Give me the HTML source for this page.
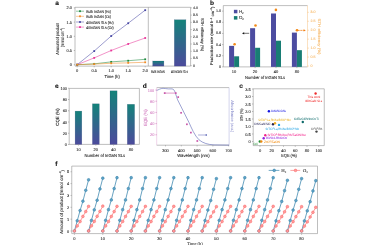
<!DOCTYPE html>
<html><head><meta charset="utf-8"><style>
html,body{margin:0;padding:0;background:#fff;width:380px;height:245px;overflow:hidden;}
svg{display:block;text-rendering:geometricPrecision;font-family:"Liberation Sans", sans-serif;filter:blur(0.35px);}
</style></head><body>
<svg width="380" height="245" viewBox="0 0 380 245"><defs>
<linearGradient id="g1" x1="0" y1="0" x2="0" y2="1"><stop offset="0" stop-color="#14837a"/><stop offset="1" stop-color="#4c4a9c"/></linearGradient>
</defs>
<text x="57.2" y="3.0" font-size="6.6" text-anchor="middle" fill="#111" stroke="#111" stroke-width="0.1" font-weight="bold" font-family='"Liberation Sans", sans-serif' dominant-baseline="central">a</text>
<line x1="75" y1="7.3" x2="190.6" y2="7.3" stroke="#888888" stroke-width="0.55"/>
<line x1="75" y1="66.1" x2="190.6" y2="66.1" stroke="#888888" stroke-width="0.55"/>
<line x1="75" y1="7.3" x2="75" y2="66.1" stroke="#888888" stroke-width="0.55"/>
<line x1="148.3" y1="7.3" x2="148.3" y2="66.1" stroke="#888888" stroke-width="0.55"/>
<line x1="190.6" y1="7.3" x2="190.6" y2="66.1" stroke="#888888" stroke-width="0.55"/>
<line x1="73.8" y1="64.7" x2="75" y2="64.7" stroke="#888888" stroke-width="0.55"/>
<text x="72.0" y="64.7" font-size="4.0" text-anchor="end" fill="#2a2a2a" stroke="#2a2a2a" stroke-width="0.1" font-weight="normal" font-family='"Liberation Sans", sans-serif' dominant-baseline="central">0</text>
<line x1="73.8" y1="50.5" x2="75" y2="50.5" stroke="#888888" stroke-width="0.55"/>
<text x="72.0" y="50.5" font-size="4.0" text-anchor="end" fill="#2a2a2a" stroke="#2a2a2a" stroke-width="0.1" font-weight="normal" font-family='"Liberation Sans", sans-serif' dominant-baseline="central">0.5</text>
<line x1="73.8" y1="36.300000000000004" x2="75" y2="36.300000000000004" stroke="#888888" stroke-width="0.55"/>
<text x="72.0" y="36.300000000000004" font-size="4.0" text-anchor="end" fill="#2a2a2a" stroke="#2a2a2a" stroke-width="0.1" font-weight="normal" font-family='"Liberation Sans", sans-serif' dominant-baseline="central">1.0</text>
<line x1="73.8" y1="22.10000000000001" x2="75" y2="22.10000000000001" stroke="#888888" stroke-width="0.55"/>
<text x="72.0" y="22.10000000000001" font-size="4.0" text-anchor="end" fill="#2a2a2a" stroke="#2a2a2a" stroke-width="0.1" font-weight="normal" font-family='"Liberation Sans", sans-serif' dominant-baseline="central">1.5</text>
<line x1="73.8" y1="7.900000000000006" x2="75" y2="7.900000000000006" stroke="#888888" stroke-width="0.55"/>
<text x="72.0" y="7.900000000000006" font-size="4.0" text-anchor="end" fill="#2a2a2a" stroke="#2a2a2a" stroke-width="0.1" font-weight="normal" font-family='"Liberation Sans", sans-serif' dominant-baseline="central">2.0</text>
<line x1="77.2" y1="66.1" x2="77.2" y2="67.3" stroke="#888888" stroke-width="0.55"/>
<text x="77.2" y="70.8" font-size="4.0" text-anchor="middle" fill="#2a2a2a" stroke="#2a2a2a" stroke-width="0.1" font-weight="normal" font-family='"Liberation Sans", sans-serif' dominant-baseline="central">0</text>
<line x1="94.2" y1="66.1" x2="94.2" y2="67.3" stroke="#888888" stroke-width="0.55"/>
<text x="94.2" y="70.8" font-size="4.0" text-anchor="middle" fill="#2a2a2a" stroke="#2a2a2a" stroke-width="0.1" font-weight="normal" font-family='"Liberation Sans", sans-serif' dominant-baseline="central">0.5</text>
<line x1="111.2" y1="66.1" x2="111.2" y2="67.3" stroke="#888888" stroke-width="0.55"/>
<text x="111.2" y="70.8" font-size="4.0" text-anchor="middle" fill="#2a2a2a" stroke="#2a2a2a" stroke-width="0.1" font-weight="normal" font-family='"Liberation Sans", sans-serif' dominant-baseline="central">1.0</text>
<line x1="128.2" y1="66.1" x2="128.2" y2="67.3" stroke="#888888" stroke-width="0.55"/>
<text x="128.2" y="70.8" font-size="4.0" text-anchor="middle" fill="#2a2a2a" stroke="#2a2a2a" stroke-width="0.1" font-weight="normal" font-family='"Liberation Sans", sans-serif' dominant-baseline="central">1.5</text>
<line x1="145.2" y1="66.1" x2="145.2" y2="67.3" stroke="#888888" stroke-width="0.55"/>
<text x="145.2" y="70.8" font-size="4.0" text-anchor="middle" fill="#2a2a2a" stroke="#2a2a2a" stroke-width="0.1" font-weight="normal" font-family='"Liberation Sans", sans-serif' dominant-baseline="central">2.0</text>
<text x="112.1" y="76.3" font-size="4.3" text-anchor="middle" fill="#2a2a2a" stroke="#2a2a2a" stroke-width="0.1" font-weight="normal" font-family='"Liberation Sans", sans-serif' dominant-baseline="central" textLength="15.4" lengthAdjust="spacingAndGlyphs">Time (h)</text>
<text x="57.0" y="39" font-size="4.4" text-anchor="middle" fill="#2a2a2a" stroke="#2a2a2a" stroke-width="0.1" font-weight="normal" font-family='"Liberation Sans", sans-serif' dominant-baseline="central" transform="rotate(-90 57.0 39)" textLength="31.4" lengthAdjust="spacingAndGlyphs">Amount of product</text>
<text x="62.4" y="37.5" font-size="4.4" text-anchor="middle" fill="#2a2a2a" stroke="#2a2a2a" stroke-width="0.1" font-weight="normal" font-family='"Liberation Sans", sans-serif' dominant-baseline="central" transform="rotate(-90 62.4 37.5)" textLength="19.7" lengthAdjust="spacingAndGlyphs">(mmol cm<tspan font-size="2.6" dy="-1.1">−2</tspan><tspan dy="1.1">)</tspan></text>
<polyline points="77.20,64.70 94.20,51.07 111.20,36.02 128.20,23.24 145.20,10.17" fill="none" stroke="#4a4aa6" stroke-width="0.55"/>
<rect x="76.3" y="63.800000000000004" width="1.8" height="1.8" fill="#4a4aa6"/>
<rect x="93.3" y="50.168000000000006" width="1.8" height="1.8" fill="#4a4aa6"/>
<rect x="110.3" y="35.11600000000001" width="1.8" height="1.8" fill="#4a4aa6"/>
<rect x="127.29999999999998" y="22.336000000000006" width="1.8" height="1.8" fill="#4a4aa6"/>
<rect x="144.29999999999998" y="9.272000000000004" width="1.8" height="1.8" fill="#4a4aa6"/>
<polyline points="77.20,64.70 94.20,57.88 111.20,50.50 128.20,43.97 145.20,38.00" fill="none" stroke="#e8389a" stroke-width="0.55"/>
<rect x="76.3" y="63.800000000000004" width="1.8" height="1.8" fill="#e8389a"/>
<rect x="93.3" y="56.984" width="1.8" height="1.8" fill="#e8389a"/>
<rect x="110.3" y="49.6" width="1.8" height="1.8" fill="#e8389a"/>
<rect x="127.29999999999998" y="43.068000000000005" width="1.8" height="1.8" fill="#e8389a"/>
<rect x="144.29999999999998" y="37.104000000000006" width="1.8" height="1.8" fill="#e8389a"/>
<polyline points="77.20,64.70 94.20,63.85 111.20,61.86 128.20,60.72 145.20,59.30" fill="none" stroke="#1f8a40" stroke-width="0.55"/>
<rect x="76.3" y="63.800000000000004" width="1.8" height="1.8" fill="#1f8a40"/>
<rect x="93.3" y="62.94800000000001" width="1.8" height="1.8" fill="#1f8a40"/>
<rect x="110.3" y="60.96" width="1.8" height="1.8" fill="#1f8a40"/>
<rect x="127.29999999999998" y="59.824000000000005" width="1.8" height="1.8" fill="#1f8a40"/>
<rect x="144.29999999999998" y="58.404" width="1.8" height="1.8" fill="#1f8a40"/>
<polyline points="77.20,64.70 94.20,64.13 111.20,63.28 128.20,62.85 145.20,62.29" fill="none" stroke="#f08c28" stroke-width="0.55"/>
<rect x="76.3" y="63.800000000000004" width="1.8" height="1.8" fill="#f08c28"/>
<rect x="93.3" y="63.232000000000006" width="1.8" height="1.8" fill="#f08c28"/>
<rect x="110.3" y="62.38" width="1.8" height="1.8" fill="#f08c28"/>
<rect x="127.29999999999998" y="61.95400000000001" width="1.8" height="1.8" fill="#f08c28"/>
<rect x="144.29999999999998" y="61.386" width="1.8" height="1.8" fill="#f08c28"/>
<line x1="76" y1="11.2" x2="84" y2="11.2" stroke="#1f8a40" stroke-width="0.5"/>
<rect x="79.1" y="10.299999999999999" width="1.8" height="1.8" fill="#1f8a40"/>
<text x="86.3" y="11.2" font-size="4.0" text-anchor="start" fill="#2a2a2a" stroke="#2a2a2a" stroke-width="0.1" font-weight="normal" font-family='"Liberation Sans", sans-serif' dominant-baseline="central" textLength="24.7" lengthAdjust="spacingAndGlyphs">Bulk InGaN (H<tspan font-size="2.6" dy="0.7">2</tspan><tspan dy="-0.7">)</tspan></text>
<line x1="76" y1="16.3" x2="84" y2="16.3" stroke="#f08c28" stroke-width="0.5"/>
<rect x="79.1" y="15.4" width="1.8" height="1.8" fill="#f08c28"/>
<text x="86.3" y="16.3" font-size="4.0" text-anchor="start" fill="#2a2a2a" stroke="#2a2a2a" stroke-width="0.1" font-weight="normal" font-family='"Liberation Sans", sans-serif' dominant-baseline="central" textLength="24.7" lengthAdjust="spacingAndGlyphs">Bulk InGaN (O<tspan font-size="2.6" dy="0.7">2</tspan><tspan dy="-0.7">)</tspan></text>
<line x1="76" y1="22.0" x2="84" y2="22.0" stroke="#4a4aa6" stroke-width="0.5"/>
<rect x="79.1" y="21.1" width="1.8" height="1.8" fill="#4a4aa6"/>
<text x="86.3" y="22.0" font-size="4.0" text-anchor="start" fill="#2a2a2a" stroke="#2a2a2a" stroke-width="0.1" font-weight="normal" font-family='"Liberation Sans", sans-serif' dominant-baseline="central" textLength="27.4" lengthAdjust="spacingAndGlyphs">40InGaN SLs (H<tspan font-size="2.6" dy="0.7">2</tspan><tspan dy="-0.7">)</tspan></text>
<line x1="76" y1="27.1" x2="84" y2="27.1" stroke="#e8389a" stroke-width="0.5"/>
<rect x="79.1" y="26.200000000000003" width="1.8" height="1.8" fill="#e8389a"/>
<text x="86.3" y="27.1" font-size="4.0" text-anchor="start" fill="#2a2a2a" stroke="#2a2a2a" stroke-width="0.1" font-weight="normal" font-family='"Liberation Sans", sans-serif' dominant-baseline="central" textLength="27.4" lengthAdjust="spacingAndGlyphs">40InGaN SLs (O<tspan font-size="2.6" dy="0.7">2</tspan><tspan dy="-0.7">)</tspan></text>
<rect x="152.7" y="61" width="11.2" height="5.099999999999994" fill="url(#g1)" stroke="#20306a" stroke-opacity="0.35" stroke-width="0.45"/>
<rect x="174.3" y="19.75" width="11.6" height="46.349999999999994" fill="url(#g1)" stroke="#20306a" stroke-opacity="0.35" stroke-width="0.45"/>
<text x="157.9" y="71.0" font-size="4.0" text-anchor="middle" fill="#2a2a2a" stroke="#2a2a2a" stroke-width="0.1" font-weight="normal" font-family='"Liberation Sans", sans-serif' dominant-baseline="central" textLength="13.7" lengthAdjust="spacingAndGlyphs">Bulk InGaN</text>
<text x="179.4" y="71.0" font-size="4.0" text-anchor="middle" fill="#2a2a2a" stroke="#2a2a2a" stroke-width="0.1" font-weight="normal" font-family='"Liberation Sans", sans-serif' dominant-baseline="central" textLength="16.8" lengthAdjust="spacingAndGlyphs">40InGaN SLs</text>
<line x1="190.6" y1="65.7" x2="191.8" y2="65.7" stroke="#888888" stroke-width="0.55"/>
<text x="193" y="65.7" font-size="3.6" text-anchor="start" fill="#2a2a2a" stroke="#2a2a2a" stroke-width="0.1" font-weight="normal" font-family='"Liberation Sans", sans-serif' dominant-baseline="central">0</text>
<line x1="190.6" y1="58.475" x2="191.8" y2="58.475" stroke="#888888" stroke-width="0.55"/>
<text x="193" y="58.475" font-size="3.6" text-anchor="start" fill="#2a2a2a" stroke="#2a2a2a" stroke-width="0.1" font-weight="normal" font-family='"Liberation Sans", sans-serif' dominant-baseline="central">0.5</text>
<line x1="190.6" y1="51.25" x2="191.8" y2="51.25" stroke="#888888" stroke-width="0.55"/>
<text x="193" y="51.25" font-size="3.6" text-anchor="start" fill="#2a2a2a" stroke="#2a2a2a" stroke-width="0.1" font-weight="normal" font-family='"Liberation Sans", sans-serif' dominant-baseline="central">1.0</text>
<line x1="190.6" y1="44.025000000000006" x2="191.8" y2="44.025000000000006" stroke="#888888" stroke-width="0.55"/>
<text x="193" y="44.025000000000006" font-size="3.6" text-anchor="start" fill="#2a2a2a" stroke="#2a2a2a" stroke-width="0.1" font-weight="normal" font-family='"Liberation Sans", sans-serif' dominant-baseline="central">1.5</text>
<line x1="190.6" y1="36.800000000000004" x2="191.8" y2="36.800000000000004" stroke="#888888" stroke-width="0.55"/>
<text x="193" y="36.800000000000004" font-size="3.6" text-anchor="start" fill="#2a2a2a" stroke="#2a2a2a" stroke-width="0.1" font-weight="normal" font-family='"Liberation Sans", sans-serif' dominant-baseline="central">2.0</text>
<line x1="190.6" y1="29.575000000000003" x2="191.8" y2="29.575000000000003" stroke="#888888" stroke-width="0.55"/>
<text x="193" y="29.575000000000003" font-size="3.6" text-anchor="start" fill="#2a2a2a" stroke="#2a2a2a" stroke-width="0.1" font-weight="normal" font-family='"Liberation Sans", sans-serif' dominant-baseline="central">2.5</text>
<line x1="190.6" y1="22.35000000000001" x2="191.8" y2="22.35000000000001" stroke="#888888" stroke-width="0.55"/>
<text x="193" y="22.35000000000001" font-size="3.6" text-anchor="start" fill="#2a2a2a" stroke="#2a2a2a" stroke-width="0.1" font-weight="normal" font-family='"Liberation Sans", sans-serif' dominant-baseline="central">3.0</text>
<line x1="190.6" y1="15.125000000000007" x2="191.8" y2="15.125000000000007" stroke="#888888" stroke-width="0.55"/>
<text x="193" y="15.125000000000007" font-size="3.6" text-anchor="start" fill="#2a2a2a" stroke="#2a2a2a" stroke-width="0.1" font-weight="normal" font-family='"Liberation Sans", sans-serif' dominant-baseline="central">3.5</text>
<line x1="190.6" y1="7.900000000000006" x2="191.8" y2="7.900000000000006" stroke="#888888" stroke-width="0.55"/>
<text x="193" y="7.900000000000006" font-size="3.6" text-anchor="start" fill="#2a2a2a" stroke="#2a2a2a" stroke-width="0.1" font-weight="normal" font-family='"Liberation Sans", sans-serif' dominant-baseline="central">4.0</text>
<text x="202.6" y="34.6" font-size="4.0" text-anchor="middle" fill="#2a2a2a" stroke="#2a2a2a" stroke-width="0.1" font-weight="normal" font-family='"Liberation Sans", sans-serif' dominant-baseline="central" transform="rotate(90 202.6 34.6)" textLength="33" lengthAdjust="spacingAndGlyphs">STH efficiency (%)</text>
<text x="212.0" y="3.0" font-size="6.6" text-anchor="middle" fill="#111" stroke="#111" stroke-width="0.1" font-weight="bold" font-family='"Liberation Sans", sans-serif' dominant-baseline="central">b</text>
<line x1="223.3" y1="5.6" x2="307.5" y2="5.6" stroke="#888888" stroke-width="0.55"/>
<line x1="223.3" y1="66.9" x2="307.5" y2="66.9" stroke="#888888" stroke-width="0.55"/>
<line x1="223.3" y1="5.6" x2="223.3" y2="66.9" stroke="#888888" stroke-width="0.55"/>
<line x1="307.5" y1="5.6" x2="307.5" y2="66.9" stroke="#f7c890" stroke-width="0.55"/>
<line x1="222.10000000000002" y1="66.9" x2="223.3" y2="66.9" stroke="#888888" stroke-width="0.55"/>
<text x="221.10000000000002" y="66.9" font-size="3.7" text-anchor="end" fill="#2a2a2a" stroke="#2a2a2a" stroke-width="0.1" font-weight="normal" font-family='"Liberation Sans", sans-serif' dominant-baseline="central">0</text>
<line x1="222.10000000000002" y1="55.75000000000001" x2="223.3" y2="55.75000000000001" stroke="#888888" stroke-width="0.55"/>
<text x="221.10000000000002" y="55.75000000000001" font-size="3.7" text-anchor="end" fill="#2a2a2a" stroke="#2a2a2a" stroke-width="0.1" font-weight="normal" font-family='"Liberation Sans", sans-serif' dominant-baseline="central">0.2</text>
<line x1="222.10000000000002" y1="44.60000000000001" x2="223.3" y2="44.60000000000001" stroke="#888888" stroke-width="0.55"/>
<text x="221.10000000000002" y="44.60000000000001" font-size="3.7" text-anchor="end" fill="#2a2a2a" stroke="#2a2a2a" stroke-width="0.1" font-weight="normal" font-family='"Liberation Sans", sans-serif' dominant-baseline="central">0.4</text>
<line x1="222.10000000000002" y1="33.45" x2="223.3" y2="33.45" stroke="#888888" stroke-width="0.55"/>
<text x="221.10000000000002" y="33.45" font-size="3.7" text-anchor="end" fill="#2a2a2a" stroke="#2a2a2a" stroke-width="0.1" font-weight="normal" font-family='"Liberation Sans", sans-serif' dominant-baseline="central">0.6</text>
<line x1="222.10000000000002" y1="22.300000000000004" x2="223.3" y2="22.300000000000004" stroke="#888888" stroke-width="0.55"/>
<text x="221.10000000000002" y="22.300000000000004" font-size="3.7" text-anchor="end" fill="#2a2a2a" stroke="#2a2a2a" stroke-width="0.1" font-weight="normal" font-family='"Liberation Sans", sans-serif' dominant-baseline="central">0.8</text>
<line x1="222.10000000000002" y1="11.150000000000006" x2="223.3" y2="11.150000000000006" stroke="#888888" stroke-width="0.55"/>
<text x="221.10000000000002" y="11.150000000000006" font-size="3.7" text-anchor="end" fill="#2a2a2a" stroke="#2a2a2a" stroke-width="0.1" font-weight="normal" font-family='"Liberation Sans", sans-serif' dominant-baseline="central">1.0</text>
<rect x="229.1" y="45.882250000000006" width="5" height="21.01775" fill="#4c4ca0"/>
<rect x="234.1" y="56.307500000000005" width="5" height="10.592500000000001" fill="#187d74"/>
<line x1="234.1" y1="66.9" x2="234.1" y2="68.10000000000001" stroke="#888888" stroke-width="0.55"/>
<text x="234.1" y="71.5" font-size="4.0" text-anchor="middle" fill="#2a2a2a" stroke="#2a2a2a" stroke-width="0.1" font-weight="normal" font-family='"Liberation Sans", sans-serif' dominant-baseline="central">10</text>
<rect x="250.1" y="28.209500000000006" width="5" height="38.6905" fill="#4c4ca0"/>
<rect x="255.1" y="47.777750000000005" width="5" height="19.12225" fill="#187d74"/>
<line x1="255.1" y1="66.9" x2="255.1" y2="68.10000000000001" stroke="#888888" stroke-width="0.55"/>
<text x="255.1" y="71.5" font-size="4.0" text-anchor="middle" fill="#2a2a2a" stroke="#2a2a2a" stroke-width="0.1" font-weight="normal" font-family='"Liberation Sans", sans-serif' dominant-baseline="central">20</text>
<rect x="271.0" y="13.49150000000001" width="5" height="53.4085" fill="#4c4ca0"/>
<rect x="276.0" y="40.697500000000005" width="5" height="26.2025" fill="#187d74"/>
<line x1="276.0" y1="66.9" x2="276.0" y2="68.10000000000001" stroke="#888888" stroke-width="0.55"/>
<text x="276.0" y="71.5" font-size="4.0" text-anchor="middle" fill="#2a2a2a" stroke="#2a2a2a" stroke-width="0.1" font-weight="normal" font-family='"Liberation Sans", sans-serif' dominant-baseline="central">40</text>
<rect x="291.9" y="32.61375" width="5" height="34.28625" fill="#4c4ca0"/>
<rect x="296.9" y="50.17500000000001" width="5" height="16.724999999999994" fill="#187d74"/>
<line x1="296.9" y1="66.9" x2="296.9" y2="68.10000000000001" stroke="#888888" stroke-width="0.55"/>
<text x="296.9" y="71.5" font-size="4.0" text-anchor="middle" fill="#2a2a2a" stroke="#2a2a2a" stroke-width="0.1" font-weight="normal" font-family='"Liberation Sans", sans-serif' dominant-baseline="central">80</text>
<line x1="307.5" y1="66.0" x2="308.7" y2="66.0" stroke="#f6b868" stroke-width="0.55"/>
<text x="310.4" y="66.0" font-size="3.6" text-anchor="start" fill="#f6b868" stroke="#f6b868" stroke-width="0.1" font-weight="normal" font-family='"Liberation Sans", sans-serif' dominant-baseline="central">0</text>
<line x1="307.5" y1="57.05" x2="308.7" y2="57.05" stroke="#f6b868" stroke-width="0.55"/>
<text x="310.4" y="57.05" font-size="3.6" text-anchor="start" fill="#f6b868" stroke="#f6b868" stroke-width="0.1" font-weight="normal" font-family='"Liberation Sans", sans-serif' dominant-baseline="central">0.5</text>
<line x1="307.5" y1="48.1" x2="308.7" y2="48.1" stroke="#f6b868" stroke-width="0.55"/>
<text x="310.4" y="48.1" font-size="3.6" text-anchor="start" fill="#f6b868" stroke="#f6b868" stroke-width="0.1" font-weight="normal" font-family='"Liberation Sans", sans-serif' dominant-baseline="central">1.0</text>
<line x1="307.5" y1="39.150000000000006" x2="308.7" y2="39.150000000000006" stroke="#f6b868" stroke-width="0.55"/>
<text x="310.4" y="39.150000000000006" font-size="3.6" text-anchor="start" fill="#f6b868" stroke="#f6b868" stroke-width="0.1" font-weight="normal" font-family='"Liberation Sans", sans-serif' dominant-baseline="central">1.5</text>
<line x1="307.5" y1="30.200000000000003" x2="308.7" y2="30.200000000000003" stroke="#f6b868" stroke-width="0.55"/>
<text x="310.4" y="30.200000000000003" font-size="3.6" text-anchor="start" fill="#f6b868" stroke="#f6b868" stroke-width="0.1" font-weight="normal" font-family='"Liberation Sans", sans-serif' dominant-baseline="central">2.0</text>
<line x1="307.5" y1="21.25" x2="308.7" y2="21.25" stroke="#f6b868" stroke-width="0.55"/>
<text x="310.4" y="21.25" font-size="3.6" text-anchor="start" fill="#f6b868" stroke="#f6b868" stroke-width="0.1" font-weight="normal" font-family='"Liberation Sans", sans-serif' dominant-baseline="central">2.5</text>
<line x1="307.5" y1="12.300000000000004" x2="308.7" y2="12.300000000000004" stroke="#f6b868" stroke-width="0.55"/>
<text x="310.4" y="12.300000000000004" font-size="3.6" text-anchor="start" fill="#f6b868" stroke="#f6b868" stroke-width="0.1" font-weight="normal" font-family='"Liberation Sans", sans-serif' dominant-baseline="central">3.0</text>
<circle cx="234.6" cy="44.3" r="1.3" fill="#f38a18" stroke="none" stroke-width="0"/>
<circle cx="255.5" cy="25.5" r="1.3" fill="#f38a18" stroke="none" stroke-width="0"/>
<circle cx="275.9" cy="9.9" r="1.3" fill="#f38a18" stroke="none" stroke-width="0"/>
<circle cx="297" cy="30.3" r="1.3" fill="#f38a18" stroke="none" stroke-width="0"/>
<line x1="297.5" y1="30.4" x2="304.8" y2="30.4" stroke="#f38018" stroke-width="0.75" stroke-dasharray="2.2,0.6"/>
<path d="M305.8,30.4 L303.6,29.3 L303.6,31.5 Z" fill="#f38018"/>
<line x1="243.5" y1="33.3" x2="249.2" y2="33.3" stroke="#111" stroke-width="0.6"/>
<path d="M242,33.3 L244.2,32.2 L244.2,34.4 Z" fill="#111"/>
<rect x="233.9" y="9.8" width="3.5" height="3.5" fill="#4c4ca0"/>
<rect x="233.9" y="16.1" width="3.5" height="3.5" fill="#187d74"/>
<text x="238.9" y="11.4" font-size="4.4" text-anchor="start" fill="#2a2a2a" stroke="#2a2a2a" stroke-width="0.1" font-weight="normal" font-family='"Liberation Sans", sans-serif' dominant-baseline="central">H<tspan font-size="2.8" dy="1.1">2</tspan><tspan dy="-1.1"></tspan></text>
<text x="238.9" y="17.7" font-size="4.4" text-anchor="start" fill="#2a2a2a" stroke="#2a2a2a" stroke-width="0.1" font-weight="normal" font-family='"Liberation Sans", sans-serif' dominant-baseline="central">O<tspan font-size="2.8" dy="1.1">2</tspan><tspan dy="-1.1"></tspan></text>
<text x="265.1" y="77.0" font-size="4.4" text-anchor="middle" fill="#2a2a2a" stroke="#2a2a2a" stroke-width="0.1" font-weight="normal" font-family='"Liberation Sans", sans-serif' dominant-baseline="central" textLength="40" lengthAdjust="spacingAndGlyphs">Number of InGaN SLs</text>
<text x="211.7" y="35.8" font-size="4.0" text-anchor="middle" fill="#2a2a2a" stroke="#2a2a2a" stroke-width="0.1" font-weight="normal" font-family='"Liberation Sans", sans-serif' dominant-baseline="central" transform="rotate(-90 211.7 35.8)" textLength="58.6" lengthAdjust="spacingAndGlyphs">Production rate (mmol h<tspan font-size="2.6" dy="-1.1">−1</tspan><tspan dy="1.1"> cm<tspan font-size="2.6" dy="-1.1">−2</tspan><tspan dy="1.1">)</tspan></tspan></text>
<text x="319.2" y="36.5" font-size="3.8" text-anchor="middle" fill="#f6b868" stroke="#f6b868" stroke-width="0.1" font-weight="normal" font-family='"Liberation Sans", sans-serif' dominant-baseline="central" transform="rotate(90 319.2 36.5)" textLength="36" lengthAdjust="spacingAndGlyphs">STH efficiency (%)</text>
<text x="56.9" y="86" font-size="6.6" text-anchor="middle" fill="#111" stroke="#111" stroke-width="0.1" font-weight="bold" font-family='"Liberation Sans", sans-serif' dominant-baseline="central">e</text>
<line x1="69.2" y1="88.4" x2="139.4" y2="88.4" stroke="#888888" stroke-width="0.55"/>
<line x1="69.2" y1="144.4" x2="139.4" y2="144.4" stroke="#888888" stroke-width="0.55"/>
<line x1="69.2" y1="88.4" x2="69.2" y2="144.4" stroke="#888888" stroke-width="0.55"/>
<line x1="139.4" y1="88.4" x2="139.4" y2="144.4" stroke="#888888" stroke-width="0.55"/>
<line x1="68.0" y1="144.5" x2="69.2" y2="144.5" stroke="#888888" stroke-width="0.55"/>
<text x="67.0" y="144.5" font-size="3.9" text-anchor="end" fill="#2a2a2a" stroke="#2a2a2a" stroke-width="0.1" font-weight="normal" font-family='"Liberation Sans", sans-serif' dominant-baseline="central">0</text>
<line x1="68.0" y1="133.25" x2="69.2" y2="133.25" stroke="#888888" stroke-width="0.55"/>
<text x="67.0" y="133.25" font-size="3.9" text-anchor="end" fill="#2a2a2a" stroke="#2a2a2a" stroke-width="0.1" font-weight="normal" font-family='"Liberation Sans", sans-serif' dominant-baseline="central">20</text>
<line x1="68.0" y1="122.0" x2="69.2" y2="122.0" stroke="#888888" stroke-width="0.55"/>
<text x="67.0" y="122.0" font-size="3.9" text-anchor="end" fill="#2a2a2a" stroke="#2a2a2a" stroke-width="0.1" font-weight="normal" font-family='"Liberation Sans", sans-serif' dominant-baseline="central">40</text>
<line x1="68.0" y1="110.75" x2="69.2" y2="110.75" stroke="#888888" stroke-width="0.55"/>
<text x="67.0" y="110.75" font-size="3.9" text-anchor="end" fill="#2a2a2a" stroke="#2a2a2a" stroke-width="0.1" font-weight="normal" font-family='"Liberation Sans", sans-serif' dominant-baseline="central">60</text>
<line x1="68.0" y1="99.5" x2="69.2" y2="99.5" stroke="#888888" stroke-width="0.55"/>
<text x="67.0" y="99.5" font-size="3.9" text-anchor="end" fill="#2a2a2a" stroke="#2a2a2a" stroke-width="0.1" font-weight="normal" font-family='"Liberation Sans", sans-serif' dominant-baseline="central">80</text>
<line x1="68.0" y1="88.25" x2="69.2" y2="88.25" stroke="#888888" stroke-width="0.55"/>
<text x="67.0" y="88.25" font-size="3.9" text-anchor="end" fill="#2a2a2a" stroke="#2a2a2a" stroke-width="0.1" font-weight="normal" font-family='"Liberation Sans", sans-serif' dominant-baseline="central">100</text>
<rect x="75.1" y="111.1" width="6.700000000000003" height="33.30000000000001" fill="url(#g1)" stroke="#20306a" stroke-opacity="0.35" stroke-width="0.45"/>
<line x1="78.44999999999999" y1="144.4" x2="78.44999999999999" y2="145.6" stroke="#888888" stroke-width="0.55"/>
<text x="78.44999999999999" y="149.2" font-size="4.0" text-anchor="middle" fill="#2a2a2a" stroke="#2a2a2a" stroke-width="0.1" font-weight="normal" font-family='"Liberation Sans", sans-serif' dominant-baseline="central">10</text>
<rect x="92.4" y="103.8" width="6.8999999999999915" height="40.60000000000001" fill="url(#g1)" stroke="#20306a" stroke-opacity="0.35" stroke-width="0.45"/>
<line x1="95.85" y1="144.4" x2="95.85" y2="145.6" stroke="#888888" stroke-width="0.55"/>
<text x="95.85" y="149.2" font-size="4.0" text-anchor="middle" fill="#2a2a2a" stroke="#2a2a2a" stroke-width="0.1" font-weight="normal" font-family='"Liberation Sans", sans-serif' dominant-baseline="central">20</text>
<rect x="110.0" y="90.8" width="7.099999999999994" height="53.60000000000001" fill="url(#g1)" stroke="#20306a" stroke-opacity="0.35" stroke-width="0.45"/>
<line x1="113.55" y1="144.4" x2="113.55" y2="145.6" stroke="#888888" stroke-width="0.55"/>
<text x="113.55" y="149.2" font-size="4.0" text-anchor="middle" fill="#2a2a2a" stroke="#2a2a2a" stroke-width="0.1" font-weight="normal" font-family='"Liberation Sans", sans-serif' dominant-baseline="central">40</text>
<rect x="127.3" y="104.3" width="7.299999999999997" height="40.10000000000001" fill="url(#g1)" stroke="#20306a" stroke-opacity="0.35" stroke-width="0.45"/>
<line x1="130.95" y1="144.4" x2="130.95" y2="145.6" stroke="#888888" stroke-width="0.55"/>
<text x="130.95" y="149.2" font-size="4.0" text-anchor="middle" fill="#2a2a2a" stroke="#2a2a2a" stroke-width="0.1" font-weight="normal" font-family='"Liberation Sans", sans-serif' dominant-baseline="central">80</text>
<text x="104.85" y="155.0" font-size="4.4" text-anchor="middle" fill="#2a2a2a" stroke="#2a2a2a" stroke-width="0.1" font-weight="normal" font-family='"Liberation Sans", sans-serif' dominant-baseline="central" textLength="40.5" lengthAdjust="spacingAndGlyphs">Number of InGaN SLs</text>
<text x="57.6" y="117" font-size="4.5" text-anchor="middle" fill="#2a2a2a" stroke="#2a2a2a" stroke-width="0.1" font-weight="normal" font-family='"Liberation Sans", sans-serif' dominant-baseline="central" transform="rotate(-90 57.6 117)" textLength="17.5" lengthAdjust="spacingAndGlyphs">CQE (%)</text>
<text x="144.8" y="86" font-size="6.6" text-anchor="middle" fill="#111" stroke="#111" stroke-width="0.1" font-weight="bold" font-family='"Liberation Sans", sans-serif' dominant-baseline="central">d</text>
<line x1="156.7" y1="87.6" x2="229.1" y2="87.6" stroke="#888888" stroke-width="0.55"/>
<line x1="156.7" y1="145.2" x2="229.1" y2="145.2" stroke="#888888" stroke-width="0.55"/>
<line x1="156.7" y1="87.6" x2="156.7" y2="145.2" stroke="#e4b0d8" stroke-width="0.55"/>
<line x1="229.1" y1="87.6" x2="229.1" y2="145.2" stroke="#b0b4e0" stroke-width="0.55"/>
<line x1="155.5" y1="134.8" x2="156.7" y2="134.8" stroke="#c855a8" stroke-width="0.55"/>
<text x="154.29999999999998" y="134.8" font-size="3.9" text-anchor="end" fill="#d27ec0" stroke="#d27ec0" stroke-width="0.08" font-weight="normal" font-family='"Liberation Sans", sans-serif' dominant-baseline="central">20</text>
<line x1="155.5" y1="123.6" x2="156.7" y2="123.6" stroke="#c855a8" stroke-width="0.55"/>
<text x="154.29999999999998" y="123.6" font-size="3.9" text-anchor="end" fill="#d27ec0" stroke="#d27ec0" stroke-width="0.08" font-weight="normal" font-family='"Liberation Sans", sans-serif' dominant-baseline="central">40</text>
<line x1="155.5" y1="112.4" x2="156.7" y2="112.4" stroke="#c855a8" stroke-width="0.55"/>
<text x="154.29999999999998" y="112.4" font-size="3.9" text-anchor="end" fill="#d27ec0" stroke="#d27ec0" stroke-width="0.08" font-weight="normal" font-family='"Liberation Sans", sans-serif' dominant-baseline="central">60</text>
<line x1="155.5" y1="101.19999999999999" x2="156.7" y2="101.19999999999999" stroke="#c855a8" stroke-width="0.55"/>
<text x="154.29999999999998" y="101.19999999999999" font-size="3.9" text-anchor="end" fill="#d27ec0" stroke="#d27ec0" stroke-width="0.08" font-weight="normal" font-family='"Liberation Sans", sans-serif' dominant-baseline="central">80</text>
<line x1="155.5" y1="90.0" x2="156.7" y2="90.0" stroke="#c855a8" stroke-width="0.55"/>
<text x="154.29999999999998" y="90.0" font-size="3.9" text-anchor="end" fill="#d27ec0" stroke="#d27ec0" stroke-width="0.08" font-weight="normal" font-family='"Liberation Sans", sans-serif' dominant-baseline="central">100</text>
<line x1="165.5" y1="145.2" x2="165.5" y2="146.39999999999998" stroke="#888888" stroke-width="0.55"/>
<text x="165.5" y="150.1" font-size="4.0" text-anchor="middle" fill="#2a2a2a" stroke="#2a2a2a" stroke-width="0.1" font-weight="normal" font-family='"Liberation Sans", sans-serif' dominant-baseline="central">300</text>
<line x1="181.3" y1="145.2" x2="181.3" y2="146.39999999999998" stroke="#888888" stroke-width="0.55"/>
<text x="181.3" y="150.1" font-size="4.0" text-anchor="middle" fill="#2a2a2a" stroke="#2a2a2a" stroke-width="0.1" font-weight="normal" font-family='"Liberation Sans", sans-serif' dominant-baseline="central">400</text>
<line x1="197.1" y1="145.2" x2="197.1" y2="146.39999999999998" stroke="#888888" stroke-width="0.55"/>
<text x="197.1" y="150.1" font-size="4.0" text-anchor="middle" fill="#2a2a2a" stroke="#2a2a2a" stroke-width="0.1" font-weight="normal" font-family='"Liberation Sans", sans-serif' dominant-baseline="central">500</text>
<line x1="212.9" y1="145.2" x2="212.9" y2="146.39999999999998" stroke="#888888" stroke-width="0.55"/>
<text x="212.9" y="150.1" font-size="4.0" text-anchor="middle" fill="#2a2a2a" stroke="#2a2a2a" stroke-width="0.1" font-weight="normal" font-family='"Liberation Sans", sans-serif' dominant-baseline="central">600</text>
<line x1="228.7" y1="145.2" x2="228.7" y2="146.39999999999998" stroke="#888888" stroke-width="0.55"/>
<text x="228.7" y="150.1" font-size="4.0" text-anchor="middle" fill="#2a2a2a" stroke="#2a2a2a" stroke-width="0.1" font-weight="normal" font-family='"Liberation Sans", sans-serif' dominant-baseline="central">700</text>
<text x="193.4" y="155.9" font-size="4.4" text-anchor="middle" fill="#2a2a2a" stroke="#2a2a2a" stroke-width="0.1" font-weight="normal" font-family='"Liberation Sans", sans-serif' dominant-baseline="central" textLength="32.4" lengthAdjust="spacingAndGlyphs">Wavelength (nm)</text>
<text x="145.0" y="117.5" font-size="4.5" text-anchor="middle" fill="#d27ec0" stroke="#d27ec0" stroke-width="0.08" font-weight="normal" font-family='"Liberation Sans", sans-serif' dominant-baseline="central" transform="rotate(-90 145.0 117.5)" textLength="16.5" lengthAdjust="spacingAndGlyphs">EQE (%)</text>
<text x="232.6" y="116.2" font-size="4.0" text-anchor="middle" fill="#8a8ecc" stroke="#8a8ecc" stroke-width="0.04" font-weight="normal" font-family='"Liberation Sans", sans-serif' dominant-baseline="central" transform="rotate(90 232.6 116.2)" textLength="32" lengthAdjust="spacingAndGlyphs">Absorbance (a.u.)</text>
<path d="M156.7,90.4 C158.5,89.9 160.5,88.4 163,88.3 C165,88.3 166.5,88.9 168.5,88.9 L172,88.9 C173.5,89.1 174.3,90 175.2,92.5 C176,95 176.8,97.5 177.6,99.8 L189,122.5 C191.5,128 194.5,135.5 199,139.8 C203,143.2 208,144.6 214,144.9 L229,145.1" fill="none" stroke="#5a64b4" stroke-width="0.6"/>
<line x1="164.7" y1="93.1" x2="175.8" y2="93.1" stroke="#c855a8" stroke-width="0.6"/>
<rect x="163.85" y="92.25" width="1.7" height="1.7" fill="#c855a8"/>
<rect x="174.95000000000002" y="92.25" width="1.7" height="1.7" fill="#c855a8"/>
<rect x="177.35" y="96.25" width="1.7" height="1.7" fill="#c855a8"/>
<rect x="180.25" y="111.95" width="1.7" height="1.7" fill="#c855a8"/>
<rect x="186.05" y="123.45" width="1.7" height="1.7" fill="#c855a8"/>
<rect x="190.05" y="131.75" width="1.7" height="1.7" fill="#c855a8"/>
<rect x="196.45000000000002" y="140.15" width="1.7" height="1.7" fill="#c855a8"/>
<line x1="198.1" y1="135" x2="206.2" y2="135" stroke="#8a8ecc" stroke-width="0.7"/>
<rect x="205.6" y="134.3" width="1.4" height="1.4" fill="#5a64b4"/>
<text x="241.0" y="86.5" font-size="6.6" text-anchor="middle" fill="#111" stroke="#111" stroke-width="0.1" font-weight="bold" font-family='"Liberation Sans", sans-serif' dominant-baseline="central">c</text>
<line x1="253.2" y1="88.8" x2="324.25" y2="88.8" stroke="#888888" stroke-width="0.55"/>
<line x1="253.2" y1="145.6" x2="324.25" y2="145.6" stroke="#888888" stroke-width="0.55"/>
<line x1="253.2" y1="88.8" x2="253.2" y2="145.6" stroke="#888888" stroke-width="0.55"/>
<line x1="324.25" y1="88.8" x2="324.25" y2="145.6" stroke="#888888" stroke-width="0.55"/>
<line x1="252.0" y1="141.5" x2="253.2" y2="141.5" stroke="#888888" stroke-width="0.55"/>
<text x="250.6" y="141.5" font-size="3.9" text-anchor="end" fill="#2a2a2a" stroke="#2a2a2a" stroke-width="0.1" font-weight="normal" font-family='"Liberation Sans", sans-serif' dominant-baseline="central">0</text>
<line x1="252.0" y1="134.0" x2="253.2" y2="134.0" stroke="#888888" stroke-width="0.55"/>
<text x="250.6" y="134.0" font-size="3.9" text-anchor="end" fill="#2a2a2a" stroke="#2a2a2a" stroke-width="0.1" font-weight="normal" font-family='"Liberation Sans", sans-serif' dominant-baseline="central">0.5</text>
<line x1="252.0" y1="126.5" x2="253.2" y2="126.5" stroke="#888888" stroke-width="0.55"/>
<text x="250.6" y="126.5" font-size="3.9" text-anchor="end" fill="#2a2a2a" stroke="#2a2a2a" stroke-width="0.1" font-weight="normal" font-family='"Liberation Sans", sans-serif' dominant-baseline="central">1.0</text>
<line x1="252.0" y1="119.0" x2="253.2" y2="119.0" stroke="#888888" stroke-width="0.55"/>
<text x="250.6" y="119.0" font-size="3.9" text-anchor="end" fill="#2a2a2a" stroke="#2a2a2a" stroke-width="0.1" font-weight="normal" font-family='"Liberation Sans", sans-serif' dominant-baseline="central">1.5</text>
<line x1="252.0" y1="111.5" x2="253.2" y2="111.5" stroke="#888888" stroke-width="0.55"/>
<text x="250.6" y="111.5" font-size="3.9" text-anchor="end" fill="#2a2a2a" stroke="#2a2a2a" stroke-width="0.1" font-weight="normal" font-family='"Liberation Sans", sans-serif' dominant-baseline="central">2.0</text>
<line x1="252.0" y1="104.0" x2="253.2" y2="104.0" stroke="#888888" stroke-width="0.55"/>
<text x="250.6" y="104.0" font-size="3.9" text-anchor="end" fill="#2a2a2a" stroke="#2a2a2a" stroke-width="0.1" font-weight="normal" font-family='"Liberation Sans", sans-serif' dominant-baseline="central">2.5</text>
<line x1="252.0" y1="96.5" x2="253.2" y2="96.5" stroke="#888888" stroke-width="0.55"/>
<text x="250.6" y="96.5" font-size="3.9" text-anchor="end" fill="#2a2a2a" stroke="#2a2a2a" stroke-width="0.1" font-weight="normal" font-family='"Liberation Sans", sans-serif' dominant-baseline="central">3.0</text>
<line x1="252.0" y1="89.0" x2="253.2" y2="89.0" stroke="#888888" stroke-width="0.55"/>
<text x="250.6" y="89.0" font-size="3.9" text-anchor="end" fill="#2a2a2a" stroke="#2a2a2a" stroke-width="0.1" font-weight="normal" font-family='"Liberation Sans", sans-serif' dominant-baseline="central">3.5</text>
<line x1="260.0" y1="145.6" x2="260.0" y2="146.79999999999998" stroke="#888888" stroke-width="0.55"/>
<text x="260.0" y="150.1" font-size="4.0" text-anchor="middle" fill="#2a2a2a" stroke="#2a2a2a" stroke-width="0.1" font-weight="normal" font-family='"Liberation Sans", sans-serif' dominant-baseline="central">0</text>
<line x1="271.75" y1="145.6" x2="271.75" y2="146.79999999999998" stroke="#888888" stroke-width="0.55"/>
<text x="271.75" y="150.1" font-size="4.0" text-anchor="middle" fill="#2a2a2a" stroke="#2a2a2a" stroke-width="0.1" font-weight="normal" font-family='"Liberation Sans", sans-serif' dominant-baseline="central">20</text>
<line x1="283.5" y1="145.6" x2="283.5" y2="146.79999999999998" stroke="#888888" stroke-width="0.55"/>
<text x="283.5" y="150.1" font-size="4.0" text-anchor="middle" fill="#2a2a2a" stroke="#2a2a2a" stroke-width="0.1" font-weight="normal" font-family='"Liberation Sans", sans-serif' dominant-baseline="central">40</text>
<line x1="295.25" y1="145.6" x2="295.25" y2="146.79999999999998" stroke="#888888" stroke-width="0.55"/>
<text x="295.25" y="150.1" font-size="4.0" text-anchor="middle" fill="#2a2a2a" stroke="#2a2a2a" stroke-width="0.1" font-weight="normal" font-family='"Liberation Sans", sans-serif' dominant-baseline="central">60</text>
<line x1="307.0" y1="145.6" x2="307.0" y2="146.79999999999998" stroke="#888888" stroke-width="0.55"/>
<text x="307.0" y="150.1" font-size="4.0" text-anchor="middle" fill="#2a2a2a" stroke="#2a2a2a" stroke-width="0.1" font-weight="normal" font-family='"Liberation Sans", sans-serif' dominant-baseline="central">80</text>
<line x1="318.75" y1="145.6" x2="318.75" y2="146.79999999999998" stroke="#888888" stroke-width="0.55"/>
<text x="318.75" y="150.1" font-size="4.0" text-anchor="middle" fill="#2a2a2a" stroke="#2a2a2a" stroke-width="0.1" font-weight="normal" font-family='"Liberation Sans", sans-serif' dominant-baseline="central">100</text>
<text x="289.0" y="155.6" font-size="4.4" text-anchor="middle" fill="#2a2a2a" stroke="#2a2a2a" stroke-width="0.1" font-weight="normal" font-family='"Liberation Sans", sans-serif' dominant-baseline="central" textLength="15.4" lengthAdjust="spacingAndGlyphs">EQE (%)</text>
<text x="241.5" y="114.8" font-size="4.3" text-anchor="middle" fill="#2a2a2a" stroke="#2a2a2a" stroke-width="0.08" font-weight="normal" font-family='"Liberation Sans", sans-serif' dominant-baseline="central" transform="rotate(-90 241.5 114.8)" textLength="12.5" lengthAdjust="spacingAndGlyphs">STH (%)</text>
<circle cx="315.6" cy="93.5" r="1.2" fill="#ee2a2a" stroke="none" stroke-width="0"/>
<circle cx="268.9" cy="111.3" r="1.2" fill="#1414e0" stroke="none" stroke-width="0"/>
<circle cx="302.8" cy="122.0" r="1.2" fill="#0d6a6a" stroke="none" stroke-width="0"/>
<circle cx="273.0" cy="124.2" r="1.2" fill="#222250" stroke="none" stroke-width="0"/>
<circle cx="275.0" cy="123.2" r="1.2" fill="#f0b020" stroke="none" stroke-width="0"/>
<circle cx="279.0" cy="124.9" r="1.2" fill="#20a8e8" stroke="none" stroke-width="0"/>
<circle cx="265.3" cy="135.2" r="1.2" fill="#f0208a" stroke="none" stroke-width="0"/>
<circle cx="263.7" cy="138.2" r="1.2" fill="#9020e0" stroke="none" stroke-width="0"/>
<circle cx="259.8" cy="141.5" r="1.2" fill="#208a30" stroke="none" stroke-width="0"/>
<circle cx="261.3" cy="141.5" r="1.2" fill="#f08a10" stroke="none" stroke-width="0"/>
<circle cx="316.5" cy="131.6" r="1.2" fill="#444444" stroke="none" stroke-width="0"/>
<text x="313.9" y="97.0" font-size="3.2" text-anchor="middle" fill="#ee3030" stroke="#ee3030" stroke-width="0.03" font-weight="normal" font-family='"Liberation Sans", sans-serif' dominant-baseline="central" textLength="12.6" lengthAdjust="spacingAndGlyphs">This work</text>
<text x="313.5" y="100.9" font-size="3.2" text-anchor="middle" fill="#ee3030" stroke="#ee3030" stroke-width="0.03" font-weight="normal" font-family='"Liberation Sans", sans-serif' dominant-baseline="central" textLength="17.2" lengthAdjust="spacingAndGlyphs">40InGaN SLs</text>
<text x="271.0" y="111.4" font-size="3.2" text-anchor="start" fill="#1414e0" stroke="#1414e0" stroke-width="0.03" font-weight="normal" font-family='"Liberation Sans", sans-serif' dominant-baseline="central" textLength="14.9" lengthAdjust="spacingAndGlyphs">C<tspan font-size="2.2" dy="0.5">3</tspan><tspan dy="-0.5">N</tspan><tspan font-size="2.2" dy="0.5">4</tspan><tspan dy="-0.5">/Ni-C</tspan><tspan font-size="2.2" dy="0.5">3</tspan><tspan dy="-0.5">N</tspan><tspan font-size="2.2" dy="0.5">4</tspan><tspan dy="-0.5"></tspan></text>
<text x="258.2" y="119.8" font-size="3.2" text-anchor="start" fill="#e8b020" stroke="#e8b020" stroke-width="0.03" font-weight="normal" font-family='"Liberation Sans", sans-serif' dominant-baseline="central" textLength="32.5" lengthAdjust="spacingAndGlyphs">SrTiO<tspan font-size="2.2" dy="0.5">3</tspan><tspan dy="-0.5">:La,Rh/Au/BiVO</tspan><tspan font-size="2.2" dy="0.5">4</tspan><tspan dy="-0.5">:Mo</tspan></text>
<text x="294.1" y="119.0" font-size="3.2" text-anchor="start" fill="#0d6a6a" stroke="#0d6a6a" stroke-width="0.03" font-weight="normal" font-family='"Liberation Sans", sans-serif' dominant-baseline="central" textLength="24.5" lengthAdjust="spacingAndGlyphs">CdTe:Cl/Pt/In<tspan font-size="2.2" dy="0.5">2</tspan><tspan dy="-0.5">O</tspan><tspan font-size="2.2" dy="0.5">3</tspan><tspan dy="-0.5">:Ti</tspan></text>
<text x="254.0" y="124.0" font-size="3.2" text-anchor="start" fill="#333360" stroke="#333360" stroke-width="0.03" font-weight="normal" font-family='"Liberation Sans", sans-serif' dominant-baseline="central" textLength="16.4" lengthAdjust="spacingAndGlyphs">CrN/GaN/SiO</text>
<text x="265.5" y="128.6" font-size="3.2" text-anchor="start" fill="#20a0e0" stroke="#20a0e0" stroke-width="0.03" font-weight="normal" font-family='"Liberation Sans", sans-serif' dominant-baseline="central" textLength="33.5" lengthAdjust="spacingAndGlyphs">SrTiO<tspan font-size="2.2" dy="0.5">3</tspan><tspan dy="-0.5">:La,Rh/Au/BiVO</tspan><tspan font-size="2.2" dy="0.5">4</tspan><tspan dy="-0.5">:Mo</tspan></text>
<text x="267.4" y="134.7" font-size="3.2" text-anchor="start" fill="#f0208a" stroke="#f0208a" stroke-width="0.03" font-weight="normal" font-family='"Liberation Sans", sans-serif' dominant-baseline="central" textLength="38.2" lengthAdjust="spacingAndGlyphs">SrTiO<tspan font-size="2.2" dy="0.5">3</tspan><tspan dy="-0.5">:Rh/Au,Rh/TaON/Au</tspan></text>
<text x="266.1" y="138.0" font-size="3.2" text-anchor="start" fill="#9020e0" stroke="#9020e0" stroke-width="0.03" font-weight="normal" font-family='"Liberation Sans", sans-serif' dominant-baseline="central" textLength="21.0" lengthAdjust="spacingAndGlyphs">BiVO4-RhCrOx</text>
<text x="263.9" y="141.7" font-size="3.2" text-anchor="start" fill="#f08a10" stroke="#f08a10" stroke-width="0.03" font-weight="normal" font-family='"Liberation Sans", sans-serif' dominant-baseline="central" textLength="16.1" lengthAdjust="spacingAndGlyphs">ZrO<tspan font-size="2.2" dy="0.5">2</tspan><tspan dy="-0.5">/TaON</tspan></text>
<text x="253.6" y="144.2" font-size="3.2" text-anchor="start" fill="#208a30" stroke="#208a30" stroke-width="0.03" font-weight="normal" font-family='"Liberation Sans", sans-serif' dominant-baseline="central" textLength="4.3" lengthAdjust="spacingAndGlyphs">CoO</text>
<text x="310.9" y="128.9" font-size="3.2" text-anchor="start" fill="#555555" stroke="#555555" stroke-width="0.03" font-weight="normal" font-family='"Liberation Sans", sans-serif' dominant-baseline="central" textLength="11.5" lengthAdjust="spacingAndGlyphs">Cr<tspan font-size="2.2" dy="0.5">2</tspan><tspan dy="-0.5">O</tspan><tspan font-size="2.2" dy="0.5">3</tspan><tspan dy="-0.5">/Rh</tspan></text>
<text x="56.3" y="164.2" font-size="6.6" text-anchor="middle" fill="#111" stroke="#111" stroke-width="0.1" font-weight="bold" font-family='"Liberation Sans", sans-serif' dominant-baseline="central">f</text>
<line x1="71.75" y1="166.1" x2="317.5" y2="166.1" stroke="#888888" stroke-width="0.55"/>
<line x1="71.75" y1="233.6" x2="317.5" y2="233.6" stroke="#888888" stroke-width="0.55"/>
<line x1="71.75" y1="166.1" x2="71.75" y2="233.6" stroke="#888888" stroke-width="0.55"/>
<line x1="317.5" y1="166.1" x2="317.5" y2="233.6" stroke="#888888" stroke-width="0.55"/>
<line x1="70.55" y1="231.0" x2="71.75" y2="231.0" stroke="#888888" stroke-width="0.55"/>
<text x="69.15" y="231.0" font-size="3.9" text-anchor="end" fill="#2a2a2a" stroke="#2a2a2a" stroke-width="0.1" font-weight="normal" font-family='"Liberation Sans", sans-serif' dominant-baseline="central">0</text>
<line x1="70.55" y1="219.15" x2="71.75" y2="219.15" stroke="#888888" stroke-width="0.55"/>
<text x="69.15" y="219.15" font-size="3.9" text-anchor="end" fill="#2a2a2a" stroke="#2a2a2a" stroke-width="0.1" font-weight="normal" font-family='"Liberation Sans", sans-serif' dominant-baseline="central">1</text>
<line x1="70.55" y1="207.3" x2="71.75" y2="207.3" stroke="#888888" stroke-width="0.55"/>
<text x="69.15" y="207.3" font-size="3.9" text-anchor="end" fill="#2a2a2a" stroke="#2a2a2a" stroke-width="0.1" font-weight="normal" font-family='"Liberation Sans", sans-serif' dominant-baseline="central">2</text>
<line x1="70.55" y1="195.45" x2="71.75" y2="195.45" stroke="#888888" stroke-width="0.55"/>
<text x="69.15" y="195.45" font-size="3.9" text-anchor="end" fill="#2a2a2a" stroke="#2a2a2a" stroke-width="0.1" font-weight="normal" font-family='"Liberation Sans", sans-serif' dominant-baseline="central">3</text>
<line x1="70.55" y1="183.6" x2="71.75" y2="183.6" stroke="#888888" stroke-width="0.55"/>
<text x="69.15" y="183.6" font-size="3.9" text-anchor="end" fill="#2a2a2a" stroke="#2a2a2a" stroke-width="0.1" font-weight="normal" font-family='"Liberation Sans", sans-serif' dominant-baseline="central">4</text>
<line x1="70.55" y1="171.75" x2="71.75" y2="171.75" stroke="#888888" stroke-width="0.55"/>
<text x="69.15" y="171.75" font-size="3.9" text-anchor="end" fill="#2a2a2a" stroke="#2a2a2a" stroke-width="0.1" font-weight="normal" font-family='"Liberation Sans", sans-serif' dominant-baseline="central">5</text>
<line x1="74.4" y1="233.6" x2="74.4" y2="234.79999999999998" stroke="#888888" stroke-width="0.55"/>
<text x="74.4" y="238.4" font-size="4.0" text-anchor="middle" fill="#2a2a2a" stroke="#2a2a2a" stroke-width="0.1" font-weight="normal" font-family='"Liberation Sans", sans-serif' dominant-baseline="central">0</text>
<line x1="102.80000000000001" y1="233.6" x2="102.80000000000001" y2="234.79999999999998" stroke="#888888" stroke-width="0.55"/>
<text x="102.80000000000001" y="238.4" font-size="4.0" text-anchor="middle" fill="#2a2a2a" stroke="#2a2a2a" stroke-width="0.1" font-weight="normal" font-family='"Liberation Sans", sans-serif' dominant-baseline="central">10</text>
<line x1="131.2" y1="233.6" x2="131.2" y2="234.79999999999998" stroke="#888888" stroke-width="0.55"/>
<text x="131.2" y="238.4" font-size="4.0" text-anchor="middle" fill="#2a2a2a" stroke="#2a2a2a" stroke-width="0.1" font-weight="normal" font-family='"Liberation Sans", sans-serif' dominant-baseline="central">20</text>
<line x1="159.6" y1="233.6" x2="159.6" y2="234.79999999999998" stroke="#888888" stroke-width="0.55"/>
<text x="159.6" y="238.4" font-size="4.0" text-anchor="middle" fill="#2a2a2a" stroke="#2a2a2a" stroke-width="0.1" font-weight="normal" font-family='"Liberation Sans", sans-serif' dominant-baseline="central">30</text>
<line x1="188.0" y1="233.6" x2="188.0" y2="234.79999999999998" stroke="#888888" stroke-width="0.55"/>
<text x="188.0" y="238.4" font-size="4.0" text-anchor="middle" fill="#2a2a2a" stroke="#2a2a2a" stroke-width="0.1" font-weight="normal" font-family='"Liberation Sans", sans-serif' dominant-baseline="central">40</text>
<line x1="216.4" y1="233.6" x2="216.4" y2="234.79999999999998" stroke="#888888" stroke-width="0.55"/>
<text x="216.4" y="238.4" font-size="4.0" text-anchor="middle" fill="#2a2a2a" stroke="#2a2a2a" stroke-width="0.1" font-weight="normal" font-family='"Liberation Sans", sans-serif' dominant-baseline="central">50</text>
<line x1="244.79999999999998" y1="233.6" x2="244.79999999999998" y2="234.79999999999998" stroke="#888888" stroke-width="0.55"/>
<text x="244.79999999999998" y="238.4" font-size="4.0" text-anchor="middle" fill="#2a2a2a" stroke="#2a2a2a" stroke-width="0.1" font-weight="normal" font-family='"Liberation Sans", sans-serif' dominant-baseline="central">60</text>
<line x1="273.2" y1="233.6" x2="273.2" y2="234.79999999999998" stroke="#888888" stroke-width="0.55"/>
<text x="273.2" y="238.4" font-size="4.0" text-anchor="middle" fill="#2a2a2a" stroke="#2a2a2a" stroke-width="0.1" font-weight="normal" font-family='"Liberation Sans", sans-serif' dominant-baseline="central">70</text>
<line x1="301.6" y1="233.6" x2="301.6" y2="234.79999999999998" stroke="#888888" stroke-width="0.55"/>
<text x="301.6" y="238.4" font-size="4.0" text-anchor="middle" fill="#2a2a2a" stroke="#2a2a2a" stroke-width="0.1" font-weight="normal" font-family='"Liberation Sans", sans-serif' dominant-baseline="central">80</text>
<text x="195.0" y="243.9" font-size="4.4" text-anchor="middle" fill="#2a2a2a" stroke="#2a2a2a" stroke-width="0.05" font-weight="normal" font-family='"Liberation Serif", serif' dominant-baseline="central" textLength="15.6" lengthAdjust="spacingAndGlyphs">Time (h)</text>
<text x="61.5" y="202" font-size="4.4" text-anchor="middle" fill="#2a2a2a" stroke="#2a2a2a" stroke-width="0.1" font-weight="normal" font-family='"Liberation Sans", sans-serif' dominant-baseline="central" transform="rotate(-90 61.5 202)" textLength="64" lengthAdjust="spacingAndGlyphs">Amount of product (mmol cm<tspan font-size="2.6" dy="-1.1">−2</tspan><tspan dy="1.1">)</tspan></text>
<polyline points="74.40,231.00 77.24,220.76 80.08,210.52 82.92,201.19 85.76,190.27 88.60,179.81" fill="none" stroke="#3884ac" stroke-width="0.75"/>
<circle cx="74.4" cy="231.0" r="1.35" fill="#5fa3c6" stroke="#3884ac" stroke-width="0.55"/>
<circle cx="77.24000000000001" cy="220.7616" r="1.35" fill="#5fa3c6" stroke="#3884ac" stroke-width="0.55"/>
<circle cx="80.08000000000001" cy="210.5232" r="1.35" fill="#5fa3c6" stroke="#3884ac" stroke-width="0.55"/>
<circle cx="82.92" cy="201.19488" r="1.35" fill="#5fa3c6" stroke="#3884ac" stroke-width="0.55"/>
<circle cx="85.76" cy="190.27392" r="1.35" fill="#5fa3c6" stroke="#3884ac" stroke-width="0.55"/>
<circle cx="88.60000000000001" cy="179.808" r="1.35" fill="#5fa3c6" stroke="#3884ac" stroke-width="0.55"/>
<polyline points="74.40,231.00 77.24,225.90 80.08,221.52 82.92,216.42 85.76,211.57 88.60,206.35" fill="none" stroke="#fa6464" stroke-width="0.65"/>
<circle cx="74.4" cy="231.0" r="1.35" fill="#ff9c9c" stroke="#fa6464" stroke-width="0.5"/>
<circle cx="77.24000000000001" cy="225.9045" r="1.35" fill="#ff9c9c" stroke="#fa6464" stroke-width="0.5"/>
<circle cx="80.08000000000001" cy="221.52" r="1.35" fill="#ff9c9c" stroke="#fa6464" stroke-width="0.5"/>
<circle cx="82.92" cy="216.4245" r="1.35" fill="#ff9c9c" stroke="#fa6464" stroke-width="0.5"/>
<circle cx="85.76" cy="211.566" r="1.35" fill="#ff9c9c" stroke="#fa6464" stroke-width="0.5"/>
<circle cx="88.60000000000001" cy="206.352" r="1.35" fill="#ff9c9c" stroke="#fa6464" stroke-width="0.5"/>
<polyline points="88.60,231.00 91.44,220.43 94.28,209.86 97.12,200.23 99.96,188.95 102.80,178.15" fill="none" stroke="#3884ac" stroke-width="0.75"/>
<circle cx="88.60000000000001" cy="231.0" r="1.35" fill="#5fa3c6" stroke="#3884ac" stroke-width="0.55"/>
<circle cx="91.44" cy="220.4298" r="1.35" fill="#5fa3c6" stroke="#3884ac" stroke-width="0.55"/>
<circle cx="94.28" cy="209.8596" r="1.35" fill="#5fa3c6" stroke="#3884ac" stroke-width="0.55"/>
<circle cx="97.12" cy="200.22897333333333" r="1.35" fill="#5fa3c6" stroke="#3884ac" stroke-width="0.55"/>
<circle cx="99.96000000000001" cy="188.95409333333333" r="1.35" fill="#5fa3c6" stroke="#3884ac" stroke-width="0.55"/>
<circle cx="102.80000000000001" cy="178.149" r="1.35" fill="#5fa3c6" stroke="#3884ac" stroke-width="0.55"/>
<polyline points="88.60,231.00 91.44,225.86 94.28,221.43 97.12,216.28 99.96,211.38 102.80,206.12" fill="none" stroke="#fa6464" stroke-width="0.65"/>
<circle cx="88.60000000000001" cy="231.0" r="1.35" fill="#ff9c9c" stroke="#fa6464" stroke-width="0.5"/>
<circle cx="91.44" cy="225.8555048076923" r="1.35" fill="#ff9c9c" stroke="#fa6464" stroke-width="0.5"/>
<circle cx="94.28" cy="221.42884615384617" r="1.35" fill="#ff9c9c" stroke="#fa6464" stroke-width="0.5"/>
<circle cx="97.12" cy="216.28435096153845" r="1.35" fill="#ff9c9c" stroke="#fa6464" stroke-width="0.5"/>
<circle cx="99.96000000000001" cy="211.37913461538463" r="1.35" fill="#ff9c9c" stroke="#fa6464" stroke-width="0.5"/>
<circle cx="102.80000000000001" cy="206.115" r="1.35" fill="#ff9c9c" stroke="#fa6464" stroke-width="0.5"/>
<polyline points="102.80,231.00 105.64,220.34 108.48,209.67 111.32,199.95 114.16,188.58 117.00,177.68" fill="none" stroke="#3884ac" stroke-width="0.75"/>
<circle cx="102.80000000000001" cy="231.0" r="1.35" fill="#5fa3c6" stroke="#3884ac" stroke-width="0.55"/>
<circle cx="105.64" cy="220.335" r="1.35" fill="#5fa3c6" stroke="#3884ac" stroke-width="0.55"/>
<circle cx="108.48" cy="209.67000000000002" r="1.35" fill="#5fa3c6" stroke="#3884ac" stroke-width="0.55"/>
<circle cx="111.32000000000001" cy="199.953" r="1.35" fill="#5fa3c6" stroke="#3884ac" stroke-width="0.55"/>
<circle cx="114.16" cy="188.577" r="1.35" fill="#5fa3c6" stroke="#3884ac" stroke-width="0.55"/>
<circle cx="117.0" cy="177.675" r="1.35" fill="#5fa3c6" stroke="#3884ac" stroke-width="0.55"/>
<polyline points="102.80,231.00 105.64,225.90 108.48,221.52 111.32,216.42 114.16,211.57 117.00,206.35" fill="none" stroke="#fa6464" stroke-width="0.65"/>
<circle cx="102.80000000000001" cy="231.0" r="1.35" fill="#ff9c9c" stroke="#fa6464" stroke-width="0.5"/>
<circle cx="105.64" cy="225.9045" r="1.35" fill="#ff9c9c" stroke="#fa6464" stroke-width="0.5"/>
<circle cx="108.48" cy="221.52" r="1.35" fill="#ff9c9c" stroke="#fa6464" stroke-width="0.5"/>
<circle cx="111.32000000000001" cy="216.4245" r="1.35" fill="#ff9c9c" stroke="#fa6464" stroke-width="0.5"/>
<circle cx="114.16" cy="211.566" r="1.35" fill="#ff9c9c" stroke="#fa6464" stroke-width="0.5"/>
<circle cx="117.0" cy="206.352" r="1.35" fill="#ff9c9c" stroke="#fa6464" stroke-width="0.5"/>
<polyline points="117.00,231.00 119.84,220.34 122.68,209.67 125.52,199.95 128.36,188.58 131.20,177.68" fill="none" stroke="#3884ac" stroke-width="0.75"/>
<circle cx="117.0" cy="231.0" r="1.35" fill="#5fa3c6" stroke="#3884ac" stroke-width="0.55"/>
<circle cx="119.84" cy="220.335" r="1.35" fill="#5fa3c6" stroke="#3884ac" stroke-width="0.55"/>
<circle cx="122.68" cy="209.67000000000002" r="1.35" fill="#5fa3c6" stroke="#3884ac" stroke-width="0.55"/>
<circle cx="125.52000000000001" cy="199.953" r="1.35" fill="#5fa3c6" stroke="#3884ac" stroke-width="0.55"/>
<circle cx="128.36" cy="188.577" r="1.35" fill="#5fa3c6" stroke="#3884ac" stroke-width="0.55"/>
<circle cx="131.2" cy="177.675" r="1.35" fill="#5fa3c6" stroke="#3884ac" stroke-width="0.55"/>
<polyline points="117.00,231.00 119.84,225.90 122.68,221.52 125.52,216.42 128.36,211.57 131.20,206.35" fill="none" stroke="#fa6464" stroke-width="0.65"/>
<circle cx="117.0" cy="231.0" r="1.35" fill="#ff9c9c" stroke="#fa6464" stroke-width="0.5"/>
<circle cx="119.84" cy="225.9045" r="1.35" fill="#ff9c9c" stroke="#fa6464" stroke-width="0.5"/>
<circle cx="122.68" cy="221.52" r="1.35" fill="#ff9c9c" stroke="#fa6464" stroke-width="0.5"/>
<circle cx="125.52000000000001" cy="216.4245" r="1.35" fill="#ff9c9c" stroke="#fa6464" stroke-width="0.5"/>
<circle cx="128.36" cy="211.566" r="1.35" fill="#ff9c9c" stroke="#fa6464" stroke-width="0.5"/>
<circle cx="131.2" cy="206.352" r="1.35" fill="#ff9c9c" stroke="#fa6464" stroke-width="0.5"/>
<polyline points="131.20,231.00 134.04,220.34 136.88,209.67 139.72,199.95 142.56,188.58 145.40,177.68" fill="none" stroke="#3884ac" stroke-width="0.75"/>
<circle cx="131.2" cy="231.0" r="1.35" fill="#5fa3c6" stroke="#3884ac" stroke-width="0.55"/>
<circle cx="134.04000000000002" cy="220.335" r="1.35" fill="#5fa3c6" stroke="#3884ac" stroke-width="0.55"/>
<circle cx="136.88" cy="209.67000000000002" r="1.35" fill="#5fa3c6" stroke="#3884ac" stroke-width="0.55"/>
<circle cx="139.72" cy="199.953" r="1.35" fill="#5fa3c6" stroke="#3884ac" stroke-width="0.55"/>
<circle cx="142.56" cy="188.577" r="1.35" fill="#5fa3c6" stroke="#3884ac" stroke-width="0.55"/>
<circle cx="145.4" cy="177.675" r="1.35" fill="#5fa3c6" stroke="#3884ac" stroke-width="0.55"/>
<polyline points="131.20,231.00 134.04,225.90 136.88,221.52 139.72,216.42 142.56,211.57 145.40,206.35" fill="none" stroke="#fa6464" stroke-width="0.65"/>
<circle cx="131.2" cy="231.0" r="1.35" fill="#ff9c9c" stroke="#fa6464" stroke-width="0.5"/>
<circle cx="134.04000000000002" cy="225.9045" r="1.35" fill="#ff9c9c" stroke="#fa6464" stroke-width="0.5"/>
<circle cx="136.88" cy="221.52" r="1.35" fill="#ff9c9c" stroke="#fa6464" stroke-width="0.5"/>
<circle cx="139.72" cy="216.4245" r="1.35" fill="#ff9c9c" stroke="#fa6464" stroke-width="0.5"/>
<circle cx="142.56" cy="211.566" r="1.35" fill="#ff9c9c" stroke="#fa6464" stroke-width="0.5"/>
<circle cx="145.4" cy="206.352" r="1.35" fill="#ff9c9c" stroke="#fa6464" stroke-width="0.5"/>
<polyline points="145.40,231.00 148.24,220.34 151.08,209.67 153.92,199.95 156.76,188.58 159.60,177.68" fill="none" stroke="#3884ac" stroke-width="0.75"/>
<circle cx="145.4" cy="231.0" r="1.35" fill="#5fa3c6" stroke="#3884ac" stroke-width="0.55"/>
<circle cx="148.24" cy="220.335" r="1.35" fill="#5fa3c6" stroke="#3884ac" stroke-width="0.55"/>
<circle cx="151.07999999999998" cy="209.67000000000002" r="1.35" fill="#5fa3c6" stroke="#3884ac" stroke-width="0.55"/>
<circle cx="153.92000000000002" cy="199.953" r="1.35" fill="#5fa3c6" stroke="#3884ac" stroke-width="0.55"/>
<circle cx="156.76" cy="188.577" r="1.35" fill="#5fa3c6" stroke="#3884ac" stroke-width="0.55"/>
<circle cx="159.6" cy="177.675" r="1.35" fill="#5fa3c6" stroke="#3884ac" stroke-width="0.55"/>
<polyline points="145.40,231.00 148.24,225.90 151.08,221.52 153.92,216.42 156.76,211.57 159.60,206.35" fill="none" stroke="#fa6464" stroke-width="0.65"/>
<circle cx="145.4" cy="231.0" r="1.35" fill="#ff9c9c" stroke="#fa6464" stroke-width="0.5"/>
<circle cx="148.24" cy="225.9045" r="1.35" fill="#ff9c9c" stroke="#fa6464" stroke-width="0.5"/>
<circle cx="151.07999999999998" cy="221.52" r="1.35" fill="#ff9c9c" stroke="#fa6464" stroke-width="0.5"/>
<circle cx="153.92000000000002" cy="216.4245" r="1.35" fill="#ff9c9c" stroke="#fa6464" stroke-width="0.5"/>
<circle cx="156.76" cy="211.566" r="1.35" fill="#ff9c9c" stroke="#fa6464" stroke-width="0.5"/>
<circle cx="159.6" cy="206.352" r="1.35" fill="#ff9c9c" stroke="#fa6464" stroke-width="0.5"/>
<polyline points="159.60,231.00 162.44,220.34 165.28,209.67 168.12,199.95 170.96,188.58 173.80,177.68" fill="none" stroke="#3884ac" stroke-width="0.75"/>
<circle cx="159.6" cy="231.0" r="1.35" fill="#5fa3c6" stroke="#3884ac" stroke-width="0.55"/>
<circle cx="162.44" cy="220.335" r="1.35" fill="#5fa3c6" stroke="#3884ac" stroke-width="0.55"/>
<circle cx="165.28" cy="209.67000000000002" r="1.35" fill="#5fa3c6" stroke="#3884ac" stroke-width="0.55"/>
<circle cx="168.12" cy="199.953" r="1.35" fill="#5fa3c6" stroke="#3884ac" stroke-width="0.55"/>
<circle cx="170.96" cy="188.577" r="1.35" fill="#5fa3c6" stroke="#3884ac" stroke-width="0.55"/>
<circle cx="173.8" cy="177.675" r="1.35" fill="#5fa3c6" stroke="#3884ac" stroke-width="0.55"/>
<polyline points="159.60,231.00 162.44,225.90 165.28,221.52 168.12,216.42 170.96,211.57 173.80,206.35" fill="none" stroke="#fa6464" stroke-width="0.65"/>
<circle cx="159.6" cy="231.0" r="1.35" fill="#ff9c9c" stroke="#fa6464" stroke-width="0.5"/>
<circle cx="162.44" cy="225.9045" r="1.35" fill="#ff9c9c" stroke="#fa6464" stroke-width="0.5"/>
<circle cx="165.28" cy="221.52" r="1.35" fill="#ff9c9c" stroke="#fa6464" stroke-width="0.5"/>
<circle cx="168.12" cy="216.4245" r="1.35" fill="#ff9c9c" stroke="#fa6464" stroke-width="0.5"/>
<circle cx="170.96" cy="211.566" r="1.35" fill="#ff9c9c" stroke="#fa6464" stroke-width="0.5"/>
<circle cx="173.8" cy="206.352" r="1.35" fill="#ff9c9c" stroke="#fa6464" stroke-width="0.5"/>
<polyline points="173.80,231.00 176.64,220.34 179.48,209.67 182.32,199.95 185.16,188.58 188.00,177.68" fill="none" stroke="#3884ac" stroke-width="0.75"/>
<circle cx="173.8" cy="231.0" r="1.35" fill="#5fa3c6" stroke="#3884ac" stroke-width="0.55"/>
<circle cx="176.64" cy="220.335" r="1.35" fill="#5fa3c6" stroke="#3884ac" stroke-width="0.55"/>
<circle cx="179.48000000000002" cy="209.67000000000002" r="1.35" fill="#5fa3c6" stroke="#3884ac" stroke-width="0.55"/>
<circle cx="182.32" cy="199.953" r="1.35" fill="#5fa3c6" stroke="#3884ac" stroke-width="0.55"/>
<circle cx="185.16" cy="188.577" r="1.35" fill="#5fa3c6" stroke="#3884ac" stroke-width="0.55"/>
<circle cx="188.0" cy="177.675" r="1.35" fill="#5fa3c6" stroke="#3884ac" stroke-width="0.55"/>
<polyline points="173.80,231.00 176.64,225.90 179.48,221.52 182.32,216.42 185.16,211.57 188.00,206.35" fill="none" stroke="#fa6464" stroke-width="0.65"/>
<circle cx="173.8" cy="231.0" r="1.35" fill="#ff9c9c" stroke="#fa6464" stroke-width="0.5"/>
<circle cx="176.64" cy="225.9045" r="1.35" fill="#ff9c9c" stroke="#fa6464" stroke-width="0.5"/>
<circle cx="179.48000000000002" cy="221.52" r="1.35" fill="#ff9c9c" stroke="#fa6464" stroke-width="0.5"/>
<circle cx="182.32" cy="216.4245" r="1.35" fill="#ff9c9c" stroke="#fa6464" stroke-width="0.5"/>
<circle cx="185.16" cy="211.566" r="1.35" fill="#ff9c9c" stroke="#fa6464" stroke-width="0.5"/>
<circle cx="188.0" cy="206.352" r="1.35" fill="#ff9c9c" stroke="#fa6464" stroke-width="0.5"/>
<polyline points="188.00,231.00 190.84,220.34 193.68,209.67 196.52,199.95 199.36,188.58 202.20,177.68" fill="none" stroke="#3884ac" stroke-width="0.75"/>
<circle cx="188.0" cy="231.0" r="1.35" fill="#5fa3c6" stroke="#3884ac" stroke-width="0.55"/>
<circle cx="190.84" cy="220.335" r="1.35" fill="#5fa3c6" stroke="#3884ac" stroke-width="0.55"/>
<circle cx="193.68" cy="209.67000000000002" r="1.35" fill="#5fa3c6" stroke="#3884ac" stroke-width="0.55"/>
<circle cx="196.51999999999998" cy="199.953" r="1.35" fill="#5fa3c6" stroke="#3884ac" stroke-width="0.55"/>
<circle cx="199.36" cy="188.577" r="1.35" fill="#5fa3c6" stroke="#3884ac" stroke-width="0.55"/>
<circle cx="202.2" cy="177.675" r="1.35" fill="#5fa3c6" stroke="#3884ac" stroke-width="0.55"/>
<polyline points="188.00,231.00 190.84,225.90 193.68,221.52 196.52,216.42 199.36,211.57 202.20,206.35" fill="none" stroke="#fa6464" stroke-width="0.65"/>
<circle cx="188.0" cy="231.0" r="1.35" fill="#ff9c9c" stroke="#fa6464" stroke-width="0.5"/>
<circle cx="190.84" cy="225.9045" r="1.35" fill="#ff9c9c" stroke="#fa6464" stroke-width="0.5"/>
<circle cx="193.68" cy="221.52" r="1.35" fill="#ff9c9c" stroke="#fa6464" stroke-width="0.5"/>
<circle cx="196.51999999999998" cy="216.4245" r="1.35" fill="#ff9c9c" stroke="#fa6464" stroke-width="0.5"/>
<circle cx="199.36" cy="211.566" r="1.35" fill="#ff9c9c" stroke="#fa6464" stroke-width="0.5"/>
<circle cx="202.2" cy="206.352" r="1.35" fill="#ff9c9c" stroke="#fa6464" stroke-width="0.5"/>
<polyline points="202.20,231.00 205.04,220.52 207.88,210.05 210.72,200.50 213.56,189.33 216.40,178.62" fill="none" stroke="#3884ac" stroke-width="0.75"/>
<circle cx="202.2" cy="231.0" r="1.35" fill="#5fa3c6" stroke="#3884ac" stroke-width="0.55"/>
<circle cx="205.04" cy="220.5246" r="1.35" fill="#5fa3c6" stroke="#3884ac" stroke-width="0.55"/>
<circle cx="207.88" cy="210.04919999999998" r="1.35" fill="#5fa3c6" stroke="#3884ac" stroke-width="0.55"/>
<circle cx="210.72" cy="200.50494666666665" r="1.35" fill="#5fa3c6" stroke="#3884ac" stroke-width="0.55"/>
<circle cx="213.56" cy="189.33118666666667" r="1.35" fill="#5fa3c6" stroke="#3884ac" stroke-width="0.55"/>
<circle cx="216.4" cy="178.623" r="1.35" fill="#5fa3c6" stroke="#3884ac" stroke-width="0.55"/>
<polyline points="202.20,231.00 205.04,225.98 207.88,221.66 210.72,216.63 213.56,211.85 216.40,206.71" fill="none" stroke="#fa6464" stroke-width="0.65"/>
<circle cx="202.2" cy="231.0" r="1.35" fill="#ff9c9c" stroke="#fa6464" stroke-width="0.5"/>
<circle cx="205.04" cy="225.97799278846153" r="1.35" fill="#ff9c9c" stroke="#fa6464" stroke-width="0.5"/>
<circle cx="207.88" cy="221.65673076923076" r="1.35" fill="#ff9c9c" stroke="#fa6464" stroke-width="0.5"/>
<circle cx="210.72" cy="216.6347235576923" r="1.35" fill="#ff9c9c" stroke="#fa6464" stroke-width="0.5"/>
<circle cx="213.56" cy="211.8462980769231" r="1.35" fill="#ff9c9c" stroke="#fa6464" stroke-width="0.5"/>
<circle cx="216.4" cy="206.7075" r="1.35" fill="#ff9c9c" stroke="#fa6464" stroke-width="0.5"/>
<polyline points="216.40,231.00 219.24,220.34 222.08,209.67 224.92,199.95 227.76,188.58 230.60,177.68" fill="none" stroke="#3884ac" stroke-width="0.75"/>
<circle cx="216.4" cy="231.0" r="1.35" fill="#5fa3c6" stroke="#3884ac" stroke-width="0.55"/>
<circle cx="219.24" cy="220.335" r="1.35" fill="#5fa3c6" stroke="#3884ac" stroke-width="0.55"/>
<circle cx="222.08" cy="209.67000000000002" r="1.35" fill="#5fa3c6" stroke="#3884ac" stroke-width="0.55"/>
<circle cx="224.92" cy="199.953" r="1.35" fill="#5fa3c6" stroke="#3884ac" stroke-width="0.55"/>
<circle cx="227.76" cy="188.577" r="1.35" fill="#5fa3c6" stroke="#3884ac" stroke-width="0.55"/>
<circle cx="230.6" cy="177.675" r="1.35" fill="#5fa3c6" stroke="#3884ac" stroke-width="0.55"/>
<polyline points="216.40,231.00 219.24,225.90 222.08,221.52 224.92,216.42 227.76,211.57 230.60,206.35" fill="none" stroke="#fa6464" stroke-width="0.65"/>
<circle cx="216.4" cy="231.0" r="1.35" fill="#ff9c9c" stroke="#fa6464" stroke-width="0.5"/>
<circle cx="219.24" cy="225.9045" r="1.35" fill="#ff9c9c" stroke="#fa6464" stroke-width="0.5"/>
<circle cx="222.08" cy="221.52" r="1.35" fill="#ff9c9c" stroke="#fa6464" stroke-width="0.5"/>
<circle cx="224.92" cy="216.4245" r="1.35" fill="#ff9c9c" stroke="#fa6464" stroke-width="0.5"/>
<circle cx="227.76" cy="211.566" r="1.35" fill="#ff9c9c" stroke="#fa6464" stroke-width="0.5"/>
<circle cx="230.6" cy="206.352" r="1.35" fill="#ff9c9c" stroke="#fa6464" stroke-width="0.5"/>
<polyline points="230.60,231.00 233.44,220.34 236.28,209.67 239.12,199.95 241.96,188.58 244.80,177.68" fill="none" stroke="#3884ac" stroke-width="0.75"/>
<circle cx="230.6" cy="231.0" r="1.35" fill="#5fa3c6" stroke="#3884ac" stroke-width="0.55"/>
<circle cx="233.44" cy="220.335" r="1.35" fill="#5fa3c6" stroke="#3884ac" stroke-width="0.55"/>
<circle cx="236.28" cy="209.67000000000002" r="1.35" fill="#5fa3c6" stroke="#3884ac" stroke-width="0.55"/>
<circle cx="239.12" cy="199.953" r="1.35" fill="#5fa3c6" stroke="#3884ac" stroke-width="0.55"/>
<circle cx="241.96" cy="188.577" r="1.35" fill="#5fa3c6" stroke="#3884ac" stroke-width="0.55"/>
<circle cx="244.79999999999998" cy="177.675" r="1.35" fill="#5fa3c6" stroke="#3884ac" stroke-width="0.55"/>
<polyline points="230.60,231.00 233.44,225.90 236.28,221.52 239.12,216.42 241.96,211.57 244.80,206.35" fill="none" stroke="#fa6464" stroke-width="0.65"/>
<circle cx="230.6" cy="231.0" r="1.35" fill="#ff9c9c" stroke="#fa6464" stroke-width="0.5"/>
<circle cx="233.44" cy="225.9045" r="1.35" fill="#ff9c9c" stroke="#fa6464" stroke-width="0.5"/>
<circle cx="236.28" cy="221.52" r="1.35" fill="#ff9c9c" stroke="#fa6464" stroke-width="0.5"/>
<circle cx="239.12" cy="216.4245" r="1.35" fill="#ff9c9c" stroke="#fa6464" stroke-width="0.5"/>
<circle cx="241.96" cy="211.566" r="1.35" fill="#ff9c9c" stroke="#fa6464" stroke-width="0.5"/>
<circle cx="244.79999999999998" cy="206.352" r="1.35" fill="#ff9c9c" stroke="#fa6464" stroke-width="0.5"/>
<polyline points="244.80,231.00 247.64,220.34 250.48,209.67 253.32,199.95 256.16,188.58 259.00,177.68" fill="none" stroke="#3884ac" stroke-width="0.75"/>
<circle cx="244.79999999999998" cy="231.0" r="1.35" fill="#5fa3c6" stroke="#3884ac" stroke-width="0.55"/>
<circle cx="247.64" cy="220.335" r="1.35" fill="#5fa3c6" stroke="#3884ac" stroke-width="0.55"/>
<circle cx="250.48" cy="209.67000000000002" r="1.35" fill="#5fa3c6" stroke="#3884ac" stroke-width="0.55"/>
<circle cx="253.32" cy="199.953" r="1.35" fill="#5fa3c6" stroke="#3884ac" stroke-width="0.55"/>
<circle cx="256.15999999999997" cy="188.577" r="1.35" fill="#5fa3c6" stroke="#3884ac" stroke-width="0.55"/>
<circle cx="259.0" cy="177.675" r="1.35" fill="#5fa3c6" stroke="#3884ac" stroke-width="0.55"/>
<polyline points="244.80,231.00 247.64,225.90 250.48,221.52 253.32,216.42 256.16,211.57 259.00,206.35" fill="none" stroke="#fa6464" stroke-width="0.65"/>
<circle cx="244.79999999999998" cy="231.0" r="1.35" fill="#ff9c9c" stroke="#fa6464" stroke-width="0.5"/>
<circle cx="247.64" cy="225.9045" r="1.35" fill="#ff9c9c" stroke="#fa6464" stroke-width="0.5"/>
<circle cx="250.48" cy="221.52" r="1.35" fill="#ff9c9c" stroke="#fa6464" stroke-width="0.5"/>
<circle cx="253.32" cy="216.4245" r="1.35" fill="#ff9c9c" stroke="#fa6464" stroke-width="0.5"/>
<circle cx="256.15999999999997" cy="211.566" r="1.35" fill="#ff9c9c" stroke="#fa6464" stroke-width="0.5"/>
<circle cx="259.0" cy="206.352" r="1.35" fill="#ff9c9c" stroke="#fa6464" stroke-width="0.5"/>
<polyline points="259.00,231.00 261.84,220.34 264.68,209.67 267.52,199.95 270.36,188.58 273.20,177.68" fill="none" stroke="#3884ac" stroke-width="0.75"/>
<circle cx="259.0" cy="231.0" r="1.35" fill="#5fa3c6" stroke="#3884ac" stroke-width="0.55"/>
<circle cx="261.84000000000003" cy="220.335" r="1.35" fill="#5fa3c6" stroke="#3884ac" stroke-width="0.55"/>
<circle cx="264.68" cy="209.67000000000002" r="1.35" fill="#5fa3c6" stroke="#3884ac" stroke-width="0.55"/>
<circle cx="267.52" cy="199.953" r="1.35" fill="#5fa3c6" stroke="#3884ac" stroke-width="0.55"/>
<circle cx="270.36" cy="188.577" r="1.35" fill="#5fa3c6" stroke="#3884ac" stroke-width="0.55"/>
<circle cx="273.2" cy="177.675" r="1.35" fill="#5fa3c6" stroke="#3884ac" stroke-width="0.55"/>
<polyline points="259.00,231.00 261.84,225.90 264.68,221.52 267.52,216.42 270.36,211.57 273.20,206.35" fill="none" stroke="#fa6464" stroke-width="0.65"/>
<circle cx="259.0" cy="231.0" r="1.35" fill="#ff9c9c" stroke="#fa6464" stroke-width="0.5"/>
<circle cx="261.84000000000003" cy="225.9045" r="1.35" fill="#ff9c9c" stroke="#fa6464" stroke-width="0.5"/>
<circle cx="264.68" cy="221.52" r="1.35" fill="#ff9c9c" stroke="#fa6464" stroke-width="0.5"/>
<circle cx="267.52" cy="216.4245" r="1.35" fill="#ff9c9c" stroke="#fa6464" stroke-width="0.5"/>
<circle cx="270.36" cy="211.566" r="1.35" fill="#ff9c9c" stroke="#fa6464" stroke-width="0.5"/>
<circle cx="273.2" cy="206.352" r="1.35" fill="#ff9c9c" stroke="#fa6464" stroke-width="0.5"/>
<polyline points="273.20,231.00 276.04,220.86 278.88,210.71 281.72,201.47 284.56,190.65 287.40,180.28" fill="none" stroke="#3884ac" stroke-width="0.75"/>
<circle cx="273.2" cy="231.0" r="1.35" fill="#5fa3c6" stroke="#3884ac" stroke-width="0.55"/>
<circle cx="276.03999999999996" cy="220.8564" r="1.35" fill="#5fa3c6" stroke="#3884ac" stroke-width="0.55"/>
<circle cx="278.88" cy="210.71280000000002" r="1.35" fill="#5fa3c6" stroke="#3884ac" stroke-width="0.55"/>
<circle cx="281.72" cy="201.47085333333334" r="1.35" fill="#5fa3c6" stroke="#3884ac" stroke-width="0.55"/>
<circle cx="284.56" cy="190.65101333333334" r="1.35" fill="#5fa3c6" stroke="#3884ac" stroke-width="0.55"/>
<circle cx="287.4" cy="180.28199999999998" r="1.35" fill="#5fa3c6" stroke="#3884ac" stroke-width="0.55"/>
<polyline points="273.20,231.00 276.04,225.98 278.88,221.66 281.72,216.63 284.56,211.85 287.40,206.71" fill="none" stroke="#fa6464" stroke-width="0.65"/>
<circle cx="273.2" cy="231.0" r="1.35" fill="#ff9c9c" stroke="#fa6464" stroke-width="0.5"/>
<circle cx="276.03999999999996" cy="225.97799278846153" r="1.35" fill="#ff9c9c" stroke="#fa6464" stroke-width="0.5"/>
<circle cx="278.88" cy="221.65673076923076" r="1.35" fill="#ff9c9c" stroke="#fa6464" stroke-width="0.5"/>
<circle cx="281.72" cy="216.6347235576923" r="1.35" fill="#ff9c9c" stroke="#fa6464" stroke-width="0.5"/>
<circle cx="284.56" cy="211.8462980769231" r="1.35" fill="#ff9c9c" stroke="#fa6464" stroke-width="0.5"/>
<circle cx="287.4" cy="206.7075" r="1.35" fill="#ff9c9c" stroke="#fa6464" stroke-width="0.5"/>
<polyline points="287.40,231.00 290.24,220.52 293.08,210.05 295.92,200.50 298.76,189.33 301.60,178.62" fill="none" stroke="#3884ac" stroke-width="0.75"/>
<circle cx="287.4" cy="231.0" r="1.35" fill="#5fa3c6" stroke="#3884ac" stroke-width="0.55"/>
<circle cx="290.24" cy="220.5246" r="1.35" fill="#5fa3c6" stroke="#3884ac" stroke-width="0.55"/>
<circle cx="293.08" cy="210.04919999999998" r="1.35" fill="#5fa3c6" stroke="#3884ac" stroke-width="0.55"/>
<circle cx="295.91999999999996" cy="200.50494666666665" r="1.35" fill="#5fa3c6" stroke="#3884ac" stroke-width="0.55"/>
<circle cx="298.76" cy="189.33118666666667" r="1.35" fill="#5fa3c6" stroke="#3884ac" stroke-width="0.55"/>
<circle cx="301.6" cy="178.623" r="1.35" fill="#5fa3c6" stroke="#3884ac" stroke-width="0.55"/>
<polyline points="287.40,231.00 290.24,225.98 293.08,221.66 295.92,216.63 298.76,211.85 301.60,206.71" fill="none" stroke="#fa6464" stroke-width="0.65"/>
<circle cx="287.4" cy="231.0" r="1.35" fill="#ff9c9c" stroke="#fa6464" stroke-width="0.5"/>
<circle cx="290.24" cy="225.97799278846153" r="1.35" fill="#ff9c9c" stroke="#fa6464" stroke-width="0.5"/>
<circle cx="293.08" cy="221.65673076923076" r="1.35" fill="#ff9c9c" stroke="#fa6464" stroke-width="0.5"/>
<circle cx="295.91999999999996" cy="216.6347235576923" r="1.35" fill="#ff9c9c" stroke="#fa6464" stroke-width="0.5"/>
<circle cx="298.76" cy="211.8462980769231" r="1.35" fill="#ff9c9c" stroke="#fa6464" stroke-width="0.5"/>
<circle cx="301.6" cy="206.7075" r="1.35" fill="#ff9c9c" stroke="#fa6464" stroke-width="0.5"/>
<polyline points="301.60,231.00 304.44,220.93 307.28,210.85 310.12,201.68 312.96,190.93 315.80,180.64" fill="none" stroke="#3884ac" stroke-width="0.75"/>
<circle cx="301.6" cy="231.0" r="1.35" fill="#5fa3c6" stroke="#3884ac" stroke-width="0.55"/>
<circle cx="304.44" cy="220.9275" r="1.35" fill="#5fa3c6" stroke="#3884ac" stroke-width="0.55"/>
<circle cx="307.28" cy="210.855" r="1.35" fill="#5fa3c6" stroke="#3884ac" stroke-width="0.55"/>
<circle cx="310.12" cy="201.67783333333333" r="1.35" fill="#5fa3c6" stroke="#3884ac" stroke-width="0.55"/>
<circle cx="312.96000000000004" cy="190.93383333333333" r="1.35" fill="#5fa3c6" stroke="#3884ac" stroke-width="0.55"/>
<circle cx="315.79999999999995" cy="180.6375" r="1.35" fill="#5fa3c6" stroke="#3884ac" stroke-width="0.55"/>
<polyline points="301.60,231.00 304.44,226.10 307.28,221.88 310.12,216.99 312.96,212.31 315.80,207.30" fill="none" stroke="#fa6464" stroke-width="0.65"/>
<circle cx="301.6" cy="231.0" r="1.35" fill="#ff9c9c" stroke="#fa6464" stroke-width="0.5"/>
<circle cx="304.44" cy="226.10048076923076" r="1.35" fill="#ff9c9c" stroke="#fa6464" stroke-width="0.5"/>
<circle cx="307.28" cy="221.8846153846154" r="1.35" fill="#ff9c9c" stroke="#fa6464" stroke-width="0.5"/>
<circle cx="310.12" cy="216.98509615384614" r="1.35" fill="#ff9c9c" stroke="#fa6464" stroke-width="0.5"/>
<circle cx="312.96000000000004" cy="212.31346153846155" r="1.35" fill="#ff9c9c" stroke="#fa6464" stroke-width="0.5"/>
<circle cx="315.79999999999995" cy="207.3" r="1.35" fill="#ff9c9c" stroke="#fa6464" stroke-width="0.5"/>
<line x1="268.7" y1="170.4" x2="279.4" y2="170.4" stroke="#3884ac" stroke-width="0.7"/>
<circle cx="274.2" cy="170.4" r="1.35" fill="#5fa3c6" stroke="#3884ac" stroke-width="0.55"/>
<text x="281.3" y="170.5" font-size="4.6" text-anchor="start" fill="#2a2a2a" stroke="#2a2a2a" stroke-width="0.06" font-weight="normal" font-family='"Liberation Serif", serif' dominant-baseline="central" textLength="5" lengthAdjust="spacingAndGlyphs">H<tspan font-size="2.9" dy="1.0">2</tspan><tspan dy="-1.0"></tspan></text>
<line x1="290.4" y1="170.4" x2="300.2" y2="170.4" stroke="#fa6464" stroke-width="0.6"/>
<circle cx="295.5" cy="170.4" r="1.35" fill="#ff9c9c" stroke="#fa6464" stroke-width="0.5"/>
<text x="302.7" y="170.5" font-size="4.6" text-anchor="start" fill="#2a2a2a" stroke="#2a2a2a" stroke-width="0.06" font-weight="normal" font-family='"Liberation Serif", serif' dominant-baseline="central" textLength="5.1" lengthAdjust="spacingAndGlyphs">O<tspan font-size="2.9" dy="1.0">2</tspan><tspan dy="-1.0"></tspan></text></svg>
</body></html>
